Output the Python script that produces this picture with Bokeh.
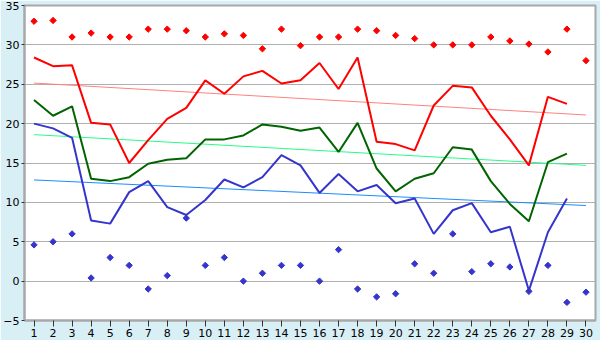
import math
from bokeh.plotting import figure
from bokeh.models import Range1d, FixedTicker
from bokeh.embed import file_html
from bokeh.resources import INLINE

days = list(range(1, 31))
red_pts = [33, 33.1, 31, 31.5, 31, 31, 32, 32, 31.8, 31, 31.4, 31.2, 29.5, 32, 29.9,
           31, 31, 32, 31.8, 31.2, 30.8, 30, 30, 30, 31, 30.5, 30.1, 29.1, 32, 28]
blue_pts = [4.6, 5, 6, 0.4, 3, 2, -1, 0.7, 8, 2, 3, 0, 1, 2, 2,
            0, 4, -1, -2, -1.6, 2.2, 1, 6, 1.2, 2.2, 1.8, -1.3, 2, -2.7, -1.4]
line_days = list(range(1, 30))
red_line = [28.4, 27.3, 27.4, 20.1, 19.9, 15, 17.9, 20.6, 22, 25.5, 23.8, 26, 26.7, 25.1, 25.5,
            27.7, 24.4, 28.4, 17.7, 17.4, 16.6, 22.3, 24.8, 24.6, 21.0, 18.0, 14.7, 23.4, 22.5]
green_line = [23, 21, 22.2, 13.0, 12.7, 13.2, 14.9, 15.4, 15.6, 18, 18, 18.5, 19.9, 19.6, 19.1,
              19.5, 16.4, 20.1, 14.3, 11.4, 13.0, 13.7, 17.0, 16.7, 12.7, 9.8, 7.6, 15.1, 16.2]
blue_line = [20, 19.4, 18.2, 7.7, 7.3, 11.3, 12.7, 9.4, 8.4, 10.3, 12.9, 11.9, 13.2, 16, 14.7,
             11.2, 13.6, 11.4, 12.2, 9.9, 10.5, 6.0, 9, 9.9, 6.2, 6.9, -1.2, 6.2, 10.5]
trend_x = [1, 30]
red_trend = [25.15, 21.1]
green_trend = [18.6, 14.7]
blue_trend = [12.85, 9.6]
y_ticks = [-5, 0, 5, 10, 15, 20, 25, 30, 35]

p = figure(width=600, height=340, output_backend="svg", toolbar_location=None,
           x_range=Range1d(0.5, 30.5), y_range=Range1d(-5, 35),
           min_border_left=20, min_border_right=5, min_border_top=5, min_border_bottom=20)
p.border_fill_color = "#d9eff6"
p.background_fill_color = "white"
p.outline_line_color = "#a8a8a8"
p.outline_line_width = 2

p.xgrid.grid_line_color = None
p.ygrid.grid_line_color = "#b0b0b0"
p.ygrid.ticker = FixedTicker(ticks=y_ticks)

p.xaxis.ticker = FixedTicker(ticks=days)
p.yaxis.ticker = FixedTicker(ticks=y_ticks)
for ax in (p.xaxis[0], p.yaxis[0]):
    ax.axis_line_color = "#a8a8a8"
    ax.axis_line_width = 2
    ax.major_tick_line_color = "#333333"
    ax.minor_tick_line_color = None
    ax.major_tick_in = 0
    ax.major_label_text_font = "DejaVu Sans"
    ax.major_label_text_font_size = "11px"
    ax.major_label_text_color = "black"
    ax.major_label_standoff = 2
p.xaxis.major_tick_out = 6
p.yaxis.major_tick_out = 3

p.line(trend_x, red_trend, color="#ff8080", line_width=1)
p.line(trend_x, green_trend, color="#22ff88", line_width=1)
p.line(trend_x, blue_trend, color="#1a8cff", line_width=1)

p.line(line_days, red_line, color="#ff0000", line_width=2)
p.line(line_days, green_line, color="#006400", line_width=2)
p.line(line_days, blue_line, color="#3535cc", line_width=2)

p.scatter(days, red_pts, marker="square", size=4.5, angle=math.pi / 4, color="#ff0000")
p.scatter(days, blue_pts, marker="square", size=4.5, angle=math.pi / 4, color="#3535cc")

open("out.html", "w").write(file_html(p, INLINE))
